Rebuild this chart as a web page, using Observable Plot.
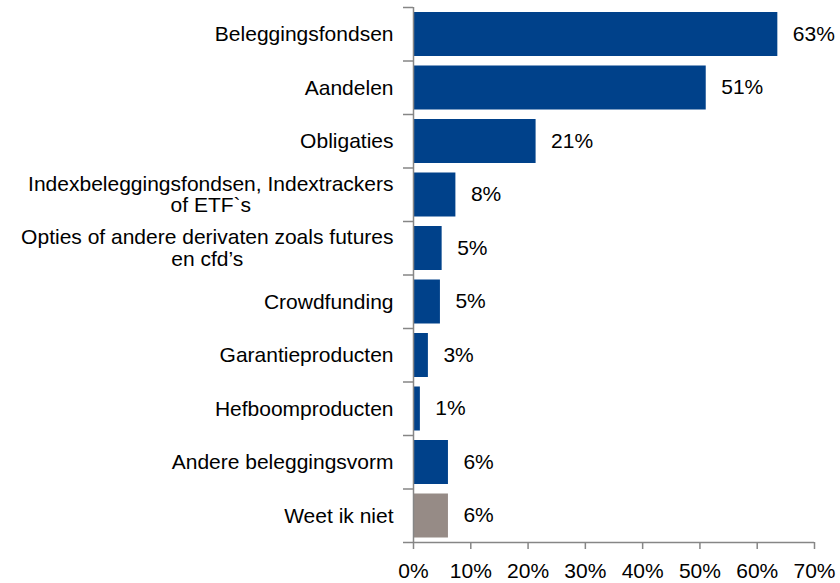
<!DOCTYPE html>
<html>
<head>
<meta charset="utf-8">
<script src="https://cdn.jsdelivr.net/npm/d3@7"></script>
<script src="https://cdn.jsdelivr.net/npm/@observablehq/plot@0.6"></script>
<style>
  html, body { margin: 0; padding: 0; background: #fff; }
  #chart { width: 840px; height: 583px; }
</style>
</head>
<body>
<div id="chart"></div>
<script>
const categories = [
  "Beleggingsfondsen",
  "Aandelen",
  "Obligaties",
  "Indexbeleggingsfondsen, Indextrackers\nof ETF`s",
  "Opties of andere derivaten zoals futures\nen cfd’s",
  "Crowdfunding",
  "Garantieproducten",
  "Hefboomproducten",
  "Andere beleggingsvorm",
  "Weet ik niet"
];
const values = [63.6, 51.1, 21.4, 7.4, 5.0, 4.7, 2.6, 1.2, 6.1, 6.1];
const valueLabels = ["63%", "51%", "21%", "8%", "5%", "5%", "3%", "1%", "6%", "6%"];
const groups = ["vorm", "vorm", "vorm", "vorm", "vorm", "vorm", "vorm", "vorm", "vorm", "weet niet"];
const xTicks = [0, 10, 20, 30, 40, 50, 60, 70];

const rows = categories.map((c, i) => ({category: c, value: values[i], label: valueLabels[i], group: groups[i], i}));

const FONT = "21px 'Liberation Sans', Arial, sans-serif";
const ctx = document.createElement("canvas").getContext("2d");
ctx.font = FONT;
const widest = s => Math.max(...s.split("\n").map(l => ctx.measureText(l).width));

const axisColor = "#868686";
const labelMarks = rows.map(r => Plot.text([r], {
  y: d => d.i + 0.5,
  text: "category",
  frameAnchor: "left",
  textAnchor: "middle",
  lineAnchor: "middle",
  lineHeight: 1.02,
  fill: "#000",
  dx: -(20 + widest(r.category) / 2)
}));

const chart = Plot.plot({
  width: 840,
  height: 583,
  marginLeft: 413,
  marginRight: 26,
  marginTop: 7,
  marginBottom: 41,
  style: {fontFamily: "'Liberation Sans', Arial, sans-serif", fontSize: "21px", color: "#000", background: "#fff"},
  x: {domain: [0, 70]},
  y: {domain: [0, 10], reverse: true},
  color: {domain: ["vorm", "weet niet"], range: ["#00418A", "#968B86"]},
  marks: [
    Plot.rectX(rows, {x1: 0, x2: "value", y1: "i", y2: d => d.i + 1, fill: "group", insetTop: 5, insetBottom: 4.5}),
    Plot.text(rows, {x: "value", y: d => d.i + 0.5, text: "label", textAnchor: "start", dx: 15, fill: "#000"}),
    ...labelMarks,
    Plot.axisX({ticks: xTicks, tickSize: 7, tickPadding: 14, tickFormat: d => d + "%", stroke: axisColor, strokeWidth: 1.5, fill: "#000", label: null}),
    Plot.axisY({ticks: d3.range(0, 11), tickSize: 10, tickFormat: () => "", stroke: axisColor, strokeWidth: 1.5, label: null}),
    Plot.ruleX([0], {stroke: axisColor, strokeWidth: 1.5}),
    Plot.ruleY([10], {stroke: axisColor, strokeWidth: 1.5})
  ]
});
document.getElementById("chart").appendChild(chart);
</script>
</body>
</html>
